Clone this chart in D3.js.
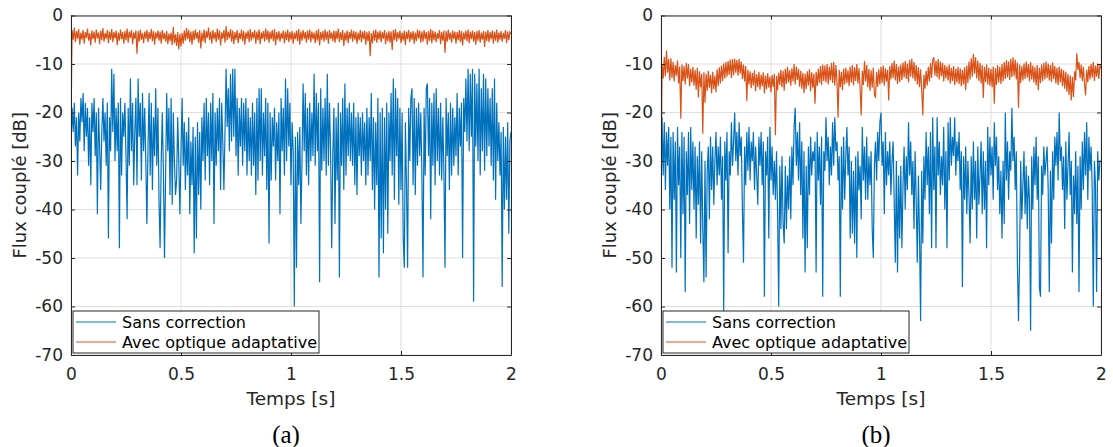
<!DOCTYPE html>
<html><head><meta charset="utf-8">
<script src="https://cdn.jsdelivr.net/npm/d3@7"></script>
<style>body{margin:0;background:#fff}svg text{font-family:"DejaVu Sans",sans-serif}</style>
</head><body><svg id="c" width="1113" height="447"></svg>
<script>
const xTicks=[0,0.5,1,1.5,2];
const xTickLabels=["0","0.5","1","1.5","2"];
const yTicks=[0,-10,-20,-30,-40,-50,-60,-70];
const yTickLabels=["0","-10","-20","-30","-40","-50","-60","-70"];
const seriesNames=["Sans correction","Avec optique adaptative"];
const panelLabels=["(a)","(b)"];
const xTitle="Temps [s]";
const yTitle="Flux couplé [dB]";
const dt=0.005; // sample spacing (s)

const blueA=[
-26,-19,-24,-18,-27,-21,-33,-20,-26,-17,
-22,-16,-28,-18,-25,-19,-31,-21,-35,-18,
-24,-17,-29,-20,-41,-19,-27,-36,-24,-17,
-26,-20,-31,-18,-46,-21,-28,-11,-24,-12,
-30,-19,-28,-18,-48,-17,-33,-20,-25,-18,
-29,-42,-19,-31,-13,-28,-18,-35,-24,-17,
-35,-13,-25,-18,-34,-16,-28,-19,-30,-43,
-27,-16,-33,-18,-36,-21,-29,-15,-31,-19,
-38,-48,-30,-20,-32,-50,-33,-16,-28,-19,
-37,-17,-39,-20,-30,-37,-34,-21,-30,-41,
-28,-17,-31,-22,-36,-24,-33,-21,-41,-26,
-35,-23,-49,-25,-46,-22,-37,-24,-40,-21,
-30,-18,-34,-17,-29,-20,-35,-18,-30,-16,
-43,-20,-31,-19,-28,-17,-36,-18,-26,-36,
-24,-11,-23,-15,-28,-12,-26,-11,-25,-11,
-29,-17,-33,-19,-27,-17,-31,-18,-28,-17,
-33,-19,-30,-21,-33,-18,-31,-20,-37,-17,
-34,-15,-30,-15,-33,-20,-29,-17,-36,-18,
-47,-20,-34,-21,-27,-19,-34,-22,-30,-20,
-41,-17,-28,-19,-33,-13,-30,-15,-27,-18,
-35,-22,-28,-60,-25,-52,-24,-35,-23,-43,
-30,-14,-28,-16,-33,-19,-35,-18,-30,-20,
-29,-12,-31,-16,-28,-18,-55,-15,-32,-19,
-30,-17,-33,-12,-31,-18,-28,-48,-29,-19,
-43,-21,-34,-18,-54,-20,-31,-17,-36,-14,
-33,-19,-29,-18,-30,-20,-31,-18,-35,-21,
-37,-20,-29,-21,-33,-20,-30,-22,-35,-19,
-33,-21,-30,-16,-36,-21,-40,-22,-35,-17,
-54,-20,-46,-19,-49,-21,-40,-18,-45,-20,
-30,-16,-33,-13,-38,-15,-29,-17,-39,-19,
-36,-20,-46,-52,-22,-35,-52,-19,-30,-17,
-15,-35,-17,-37,-19,-31,-18,-29,-20,-33,
-54,-19,-33,-15,-14,-29,-17,-42,-18,-31,
-16,-35,-15,-30,-19,-33,-18,-34,-21,-32,
-52,-17,-29,-20,-36,-18,-33,-19,-31,-21,
-29,-16,-33,-19,-27,-18,-50,-17,-24,-13,
-26,-11,-28,-12,-25,-11,-59,-12,-27,-14,
-30,-11,-33,-15,-28,-12,-32,-13,-29,-15,
-27,-17,-31,-15,-34,-13,-38,-18,-30,-22,
-33,-24,-56,-23,-40,-25,-38,-22,-45,-26,
-24];

const orangeA=[
-24,-3,-5,-2.5,-5.5,-3.2,-4.8,-2.8,-6,-3.5,
-5,-3,-5.8,-3.4,-4.6,-2.7,-5.2,-3.6,-6.2,-3.1,
-4.9,-3.3,-5.6,-2.9,-4.7,-3.5,-5.9,-3.1,-5.1,-2.6,
-5.4,-3.6,-4.8,-3,-5.7,-3.3,-5,-2.8,-5.5,-3.4,
-4.7,-3.1,-6.1,-3.5,-5.2,-2.9,-4.9,-3.4,-5.8,-3.2,
-5.1,-2.7,-5.6,-3.3,-4.6,-3,-5.9,-3.5,-4.8,-3.1,
-7.9,-3.2,-5.4,-2.9,-5,-3.6,-5.7,-3.3,-4.8,-3,
-5.5,-3.4,-4.9,-2.8,-5.3,-3.2,-6,-3.5,-4.7,-3.1,
-5.2,-3.3,-5.8,-3,-4.9,-3.6,-5.4,-3.2,-5.9,-3.7,
-5.3,-3.5,-6.1,-2.4,-5.7,-3.9,-6.3,-3.4,-7,-3.8,
-6.4,-3.6,-5.8,-3.1,-5.2,-2.6,-4.9,-3,-5.5,-3.3,
-6,-3.2,-5.1,-2.9,-4.8,-3.4,-5.6,-3,-6.8,-3.5,
-5.3,-2.9,-5.7,-3.2,-4.6,-2.5,-5.1,-3.3,-5.8,-3,
-4.9,-3.4,-5.5,-2.7,-5,-3.1,-6.2,-3.5,-4.8,-3,
-5.6,-2.2,-5.1,-3.3,-4.7,-2.8,-5.4,-3.1,-5.9,-3.4,
-5,-3,-5.7,-3.6,-4.9,-2.9,-5.3,-3.2,-6,-3.5,
-4.8,-3.1,-5.5,-2.8,-5.2,-3.4,-4.7,-3,-5.8,-3.3,
-5.1,-2.9,-5.9,-3.5,-4.8,-3.2,-5.4,-2.7,-5,-3.1,
-5.6,-3.3,-4.9,-3,-5.3,-2.8,-6.1,-3.4,-5,-3.2,
-5.4,-3.6,-4.8,-3.1,-5.7,-3.3,-5.1,-2.9,-5.5,-3.4,
-5,-3.2,-5.8,-3.5,-4.9,-3.1,-5.3,-2.8,-6,-3.3,
-5.2,-3,-4.8,-3.4,-5.6,-3.1,-5,-2.9,-5.5,-3.3,
-4.9,-3.5,-5.7,-3.1,-5.2,-2.8,-6.2,-3.4,-5,-3.2,
-5.4,-2.9,-5,-3.3,-5.8,-3,-4.8,-3.5,-5.3,-3.1,
-5.6,-3.2,-4.9,-2.7,-5.5,-3.4,-5.1,-3,-6.3,-3.5,
-5.2,-3.1,-5.7,-3.4,-4.8,-2.9,-5.4,-3.2,-5,-3.3,
-5.8,-3.5,-5.1,-3,-5.5,-3.3,-4.9,-3.1,-6,-3.4,
-5.3,-3.2,-8.4,-3.6,-5.7,-3.1,-5.2,-2.9,-5.6,-3.3,
-5,-3.1,-5.5,-3.4,-4.8,-3,-5.9,-3.5,-5.3,-3.2,
-5.6,-3.3,-7.1,-3,-5.1,-2.8,-5.4,-3.4,-4.9,-3.1,
-5.7,-3.5,-5.2,-3.1,-6.1,-3.3,-4.9,-3,-5.5,-3.4,
-5,-3.2,-5.8,-3.5,-5.3,-2.9,-4.8,-3.1,-5.6,-3.3,
-5.4,-3,-4.9,-3.4,-6,-3.2,-5.2,-2.8,-5.7,-3.1,
-5.1,-3.3,-5.5,-3.6,-4.8,-3,-5.9,-3.4,-5.2,-3.1,
-7.7,-3.2,-5.4,-2.9,-5,-3.5,-5.6,-3.1,-4.9,-3.3,
-5.8,-3.4,-5.1,-3,-5.5,-3.2,-6.2,-3.5,-5,-3.1,
-5.3,-2.9,-5.7,-3.3,-4.9,-3.1,-5.4,-3.4,-6,-3.2,
-5.2,-3,-5.6,-3.5,-5,-3.2,-6.5,-3.3,-5.3,-3,
-5.5,-3.4,-4.9,-3.1,-5.8,-3.3,-5.2,-2.9,-5.6,-3.5,
-5,-3.2,-5.4,-3.6,-4.8,-3,-5.7,-3.3,-5.1,-3.4,
-3.8];

const blueB=[
-39,-21,-33,-22,-36,-24,-31,-23,-40,-25,
-52,-24,-38,-26,-53,-23,-35,-27,-50,-24,
-41,-25,-57,-28,-37,-24,-43,-23,-36,-26,
-40,-27,-46,-29,-39,-26,-47,-28,-44,-55,
-30,-54,-32,-27,-42,-25,-36,-27,-39,-30,
-24,-35,-27,-33,-25,-38,-29,-61,-26,-34,
-24,-49,-28,-33,-22,-31,-26,-20,-30,-24,
-33,-22,-29,-25,-40,-51,-27,-35,-24,-32,
-23,-34,-26,-30,-24,-36,-27,-33,-39,-25,
-31,-24,-35,-26,-58,-28,-33,-25,-46,-23,
-34,-27,-37,-30,-38,-28,-41,-60,-31,-44,
-29,-43,-47,-31,-44,-33,-40,-29,-42,-27,
-35,-23,-19,-31,-24,-34,-22,-37,-26,-46,
-28,-53,-31,-48,-27,-37,-25,-33,-28,-30,
-26,-53,-24,-34,-27,-39,-25,-58,-28,-32,
-21,-30,-25,-35,-27,-33,-22,-31,-21,-28,
-26,-34,-29,-58,-27,-40,-25,-38,-29,-23,
-33,-27,-46,-30,-45,-32,-47,-29,-50,-28,
-36,-31,-42,-23,-34,-27,-38,-25,-38,-29,
-35,-28,-44,-50,-31,-26,-34,-24,-30,-22,
-20,-31,-26,-41,-24,-35,-28,-33,-26,-37,
-30,-26,-38,-51,-30,-53,-33,-46,-31,-48,
-35,-27,-40,-29,-36,-22,-33,-26,-37,-30,
-44,-28,-38,-51,-33,-45,-63,-32,-47,-29,
-38,-24,-35,-27,-41,-24,-48,-21,-36,-27,
-48,-21,-33,-26,-37,-29,-35,-23,-40,-28,
-48,-22,-34,-21,-31,-25,-29,-21,-33,-26,
-30,-24,-36,-28,-56,-29,-38,-27,-41,-30,
-37,-47,-29,-40,-26,-38,-30,-46,-27,-39,
-33,-26,-41,-28,-40,-30,-48,-23,-35,-25,
-33,-27,-38,-22,-31,-25,-36,-29,-41,-32,
-46,-30,-43,-20,-34,-26,-38,-28,-32,-19,
-30,-25,-36,-28,-51,-63,-50,-30,-42,-35,
-28,-41,-31,-44,-33,-38,-65,-29,-40,-27,
-35,-25,-38,-29,-56,-58,-31,-37,-27,-33,
-30,-27,-36,-57,-32,-47,-28,-38,-25,-31,
-24,-34,-20,-30,-27,-36,-29,-44,-26,-38,
-31,-24,-37,-30,-53,-33,-41,-28,-43,-31,
-57,-29,-40,-26,-36,-24,-33,-22,-38,-25,
-32,-27,-36,-60,-30,-35,-57,-28,-34,-30,
-30];

const orangeB=[
-38,-10,-13,-8.5,-12.5,-7.2,-11.8,-9,-13.4,-8.8,
-12.9,-9.6,-13.6,-10.2,-12.4,-9.3,-14,-10.5,-21.3,-10.1,
-13.5,-10.4,-14.2,-9.8,-13,-10,-14.6,-11,-13.8,-10.6,
-14.5,-11.2,-15.3,-10.8,-16.9,-11.5,-14.8,-12,-24.4,-11.7,
-18,-12,-15.5,-11.4,-14.9,-12.2,-16,-11.6,-15.2,-12.4,
-15.8,-11.1,-14.6,-10.7,-14,-10.3,-13.5,-9.9,-13,-9.6,
-12.6,-9.4,-12.2,-9.1,-12.9,-9,-12.3,-8.9,-11.8,-9.2,
-12.4,-9,-12,-9.5,-13.1,-10.1,-13.6,-10.4,-17.6,-11.2,
-14.2,-11.5,-15,-11.8,-14.4,-11.3,-15.6,-12.1,-14.8,-11.6,
-15.3,-12.2,-14.6,-11.7,-16.1,-12.4,-15.2,-11.9,-14.9,-12.6,
-15.8,-12.3,-14.7,-12,-24.7,-12.5,-15.4,-11.8,-14.3,-11.2,
-14.8,-11.4,-15.5,-11,-14.1,-10.6,-13.8,-11.3,-14.5,-10.9,
-13.6,-10,-14.2,-10.5,-13.3,-11,-14.7,-11.4,-15.1,-11.8,
-16,-12,-15.2,-11.5,-14.4,-11.1,-15.6,-11.7,-14.9,-12,
-18.2,-11.6,-14.6,-11,-13.9,-10.4,-14.3,-10.1,-13.5,-10.3,
-13.8,-10,-14.2,-10.6,-13.4,-9.8,-13.9,-9.6,-14.5,-10.2,
-13.7,-21.1,-11.2,-14.8,-11.6,-15.4,-11,-14.2,-10.8,-13.9,
-11.3,-14.6,-10.5,-13.8,-10.2,-14.4,-10.7,-13.5,-10,-14,
-10.9,-15,-20.6,-11.4,-14.3,-9.4,-13.6,-10.2,-14.8,-11,
-15.5,-11.3,-14.9,-10.8,-16.2,-17,-11.6,-14.7,-11.1,-14.2,
-10.6,-13.9,-10.3,-14.5,-10.9,-13.6,-11.2,-17.5,-10.4,-13.2,
-9.8,-12.9,-9.3,-13.4,-10,-14.1,-10.5,-13.7,-10.1,-13.3,
-9.7,-12.8,-9.4,-13.1,-9.9,-13.8,-9.2,-12.6,-8.9,-13,
-9.6,-13.5,-10.2,-14.2,-10.7,-14.8,-11.1,-15.3,-20.6,-12.2,
-15.1,-11.4,-14.4,-10.6,-13.6,-9.8,-12.9,-9.2,-8.6,-12.4,
-9.4,-12.7,-9,-13.2,-9.5,-12.5,-9.8,-13.6,-10.2,-13,
-10.5,-13.4,-10.1,-14,-10.8,-13.5,-10.4,-14.3,-11,-13.8,
-10.6,-14.1,-10.9,-14.6,-11.2,-14.2,-10.7,-15.4,-10.3,-13.9,
-9.5,-13.2,-8.8,-12.6,-7.9,-12,-8.6,-13,-9.3,-13.5,
-9.8,-14,-10.2,-17,-10.6,-13.7,-10.1,-14.2,-10.8,-14.5,
-11,-14.8,-10.5,-18.2,-10.9,-14.3,-10.2,-13.8,-10.6,-14.1,
-10,-13.6,-9.6,-13.1,-9.2,-12.8,-9.5,-13.3,-8.9,-12.7,
-8.6,-12.5,-9.1,-13.2,-9.7,-19,-10.1,-13.9,-10.4,-13.4,
-9.9,-13.1,-9.5,-12.8,-10,-13.6,-9.6,-13.2,-10.3,-13.8,
-10.7,-14.4,-10.2,-15.4,-10.8,-13.9,-10.1,-13.5,-9.8,-13.2,
-9.5,-12.9,-9.9,-13.4,-10.2,-13.7,-9.7,-13.1,-10.4,-14,
-10.8,-14.3,-10.5,-13.8,-11,-14.6,-11.3,-15.1,-11.6,-15.7,
-12,-16.4,-12.4,-17.5,-12.7,-16.8,-11.5,-13.4,-7.8,-11.2,
-9.6,-12.9,-10.1,-13.5,-10.6,-14.1,-16.5,-11.2,-13.8,-10.4,
-13.2,-10,-12.8,-9.6,-13.5,-10.3,-12.6,-9.9,-13.1,-10.2,
-11];

const colors={blue:"#0072BD",orange:"#D95319",axis:"#262626",grid:"#dfdfdf"};
const svg=d3.select("#c");
const plotTop=15.5,plotBottom=355;
const panels=[
 {left:71,right:511,blue:blueA,orange:orangeA,label:panelLabels[0]},
 {left:661,right:1101,blue:blueB,orange:orangeB,label:panelLabels[1]}
];
panels.forEach((p,pi)=>{
  const x=d3.scaleLinear().domain([0,2]).range([p.left,p.right]);
  const y=d3.scaleLinear().domain([-70,0]).range([plotBottom,plotTop]);
  const g=svg.append("g");
  g.selectAll(".gx").data(xTicks).join("line")
    .attr("x1",d=>x(d)).attr("x2",d=>x(d)).attr("y1",plotTop).attr("y2",plotBottom)
    .attr("stroke",colors.grid).attr("stroke-width",1);
  g.selectAll(".gy").data(yTicks).join("line")
    .attr("y1",d=>y(d)).attr("y2",d=>y(d)).attr("x1",p.left).attr("x2",p.right)
    .attr("stroke",colors.grid).attr("stroke-width",1);
  const cid="clip"+pi;
  svg.append("clipPath").attr("id",cid).append("rect")
    .attr("x",p.left).attr("y",plotTop).attr("width",p.right-p.left).attr("height",plotBottom-plotTop);
  const line=d3.line().x((d,i)=>x(i*dt)).y(d=>y(d));
  g.append("path").datum(p.blue).attr("d",line).attr("fill","none")
    .attr("stroke",colors.blue).attr("stroke-width",1.2).attr("clip-path",`url(#${cid})`);
  g.append("path").datum(p.orange).attr("d",line).attr("fill","none")
    .attr("stroke",colors.orange).attr("stroke-width",1.2).attr("clip-path",`url(#${cid})`);
  const ax=g.append("g").attr("transform",`translate(0,${plotBottom})`)
    .call(d3.axisBottom(x).tickValues(xTicks).tickFormat((d,i)=>xTickLabels[i]).tickSizeInner(-4).tickSizeOuter(0).tickPadding(13));
  const ay=g.append("g").attr("transform",`translate(${p.left},0)`)
    .call(d3.axisLeft(y).tickValues(yTicks).tickFormat((d,i)=>yTickLabels[i]).tickSizeInner(-4).tickSizeOuter(0).tickPadding(8));
  const axT=g.append("g").attr("transform",`translate(0,${plotTop})`)
    .call(d3.axisTop(x).tickValues(xTicks).tickFormat("").tickSizeInner(-4).tickSizeOuter(0));
  const ayR=g.append("g").attr("transform",`translate(${p.right},0)`)
    .call(d3.axisRight(y).tickValues(yTicks).tickFormat("").tickSizeInner(-4).tickSizeOuter(0));
  [ax,ay,axT,ayR].forEach(a=>{
    a.selectAll("path").attr("stroke",colors.axis).attr("stroke-width",1);
    a.selectAll("line").attr("stroke",colors.axis);
    a.selectAll("text").attr("fill",colors.axis).style("font-size","17px").style("font-family","DejaVu Sans");
  });
  g.append("text").attr("x",(p.left+p.right)/2).attr("y",405).attr("text-anchor","middle")
    .attr("fill",colors.axis).style("font-size","18.5px").text(xTitle);
  g.append("text").attr("transform",`translate(${p.left-45},${(plotTop+plotBottom)/2}) rotate(-90)`)
    .attr("text-anchor","middle").attr("fill",colors.axis).style("font-size","18px").text(yTitle);
  g.append("text").attr("x",(p.left+p.right)/2-5).attr("y",443).attr("text-anchor","middle")
    .attr("fill","#000").style("font-family","'Liberation Serif',serif").style("font-size","25px").text(p.label);
  const lg=g.append("g").attr("transform",`translate(${p.left+2},311)`);
  lg.append("rect").attr("width",246).attr("height",42).attr("fill","#fff")
    .attr("stroke",colors.axis).attr("stroke-width",1);
  [colors.blue,colors.orange].forEach((c,i)=>{
    const yy=11+i*20;
    lg.append("line").attr("x1",3).attr("x2",43).attr("y1",yy).attr("y2",yy).attr("stroke",c).attr("stroke-width",1);
    lg.append("text").attr("x",49).attr("y",yy+5.5).attr("fill","#000").style("font-size","16px").text(seriesNames[i]);
  });
});
</script></body></html>
